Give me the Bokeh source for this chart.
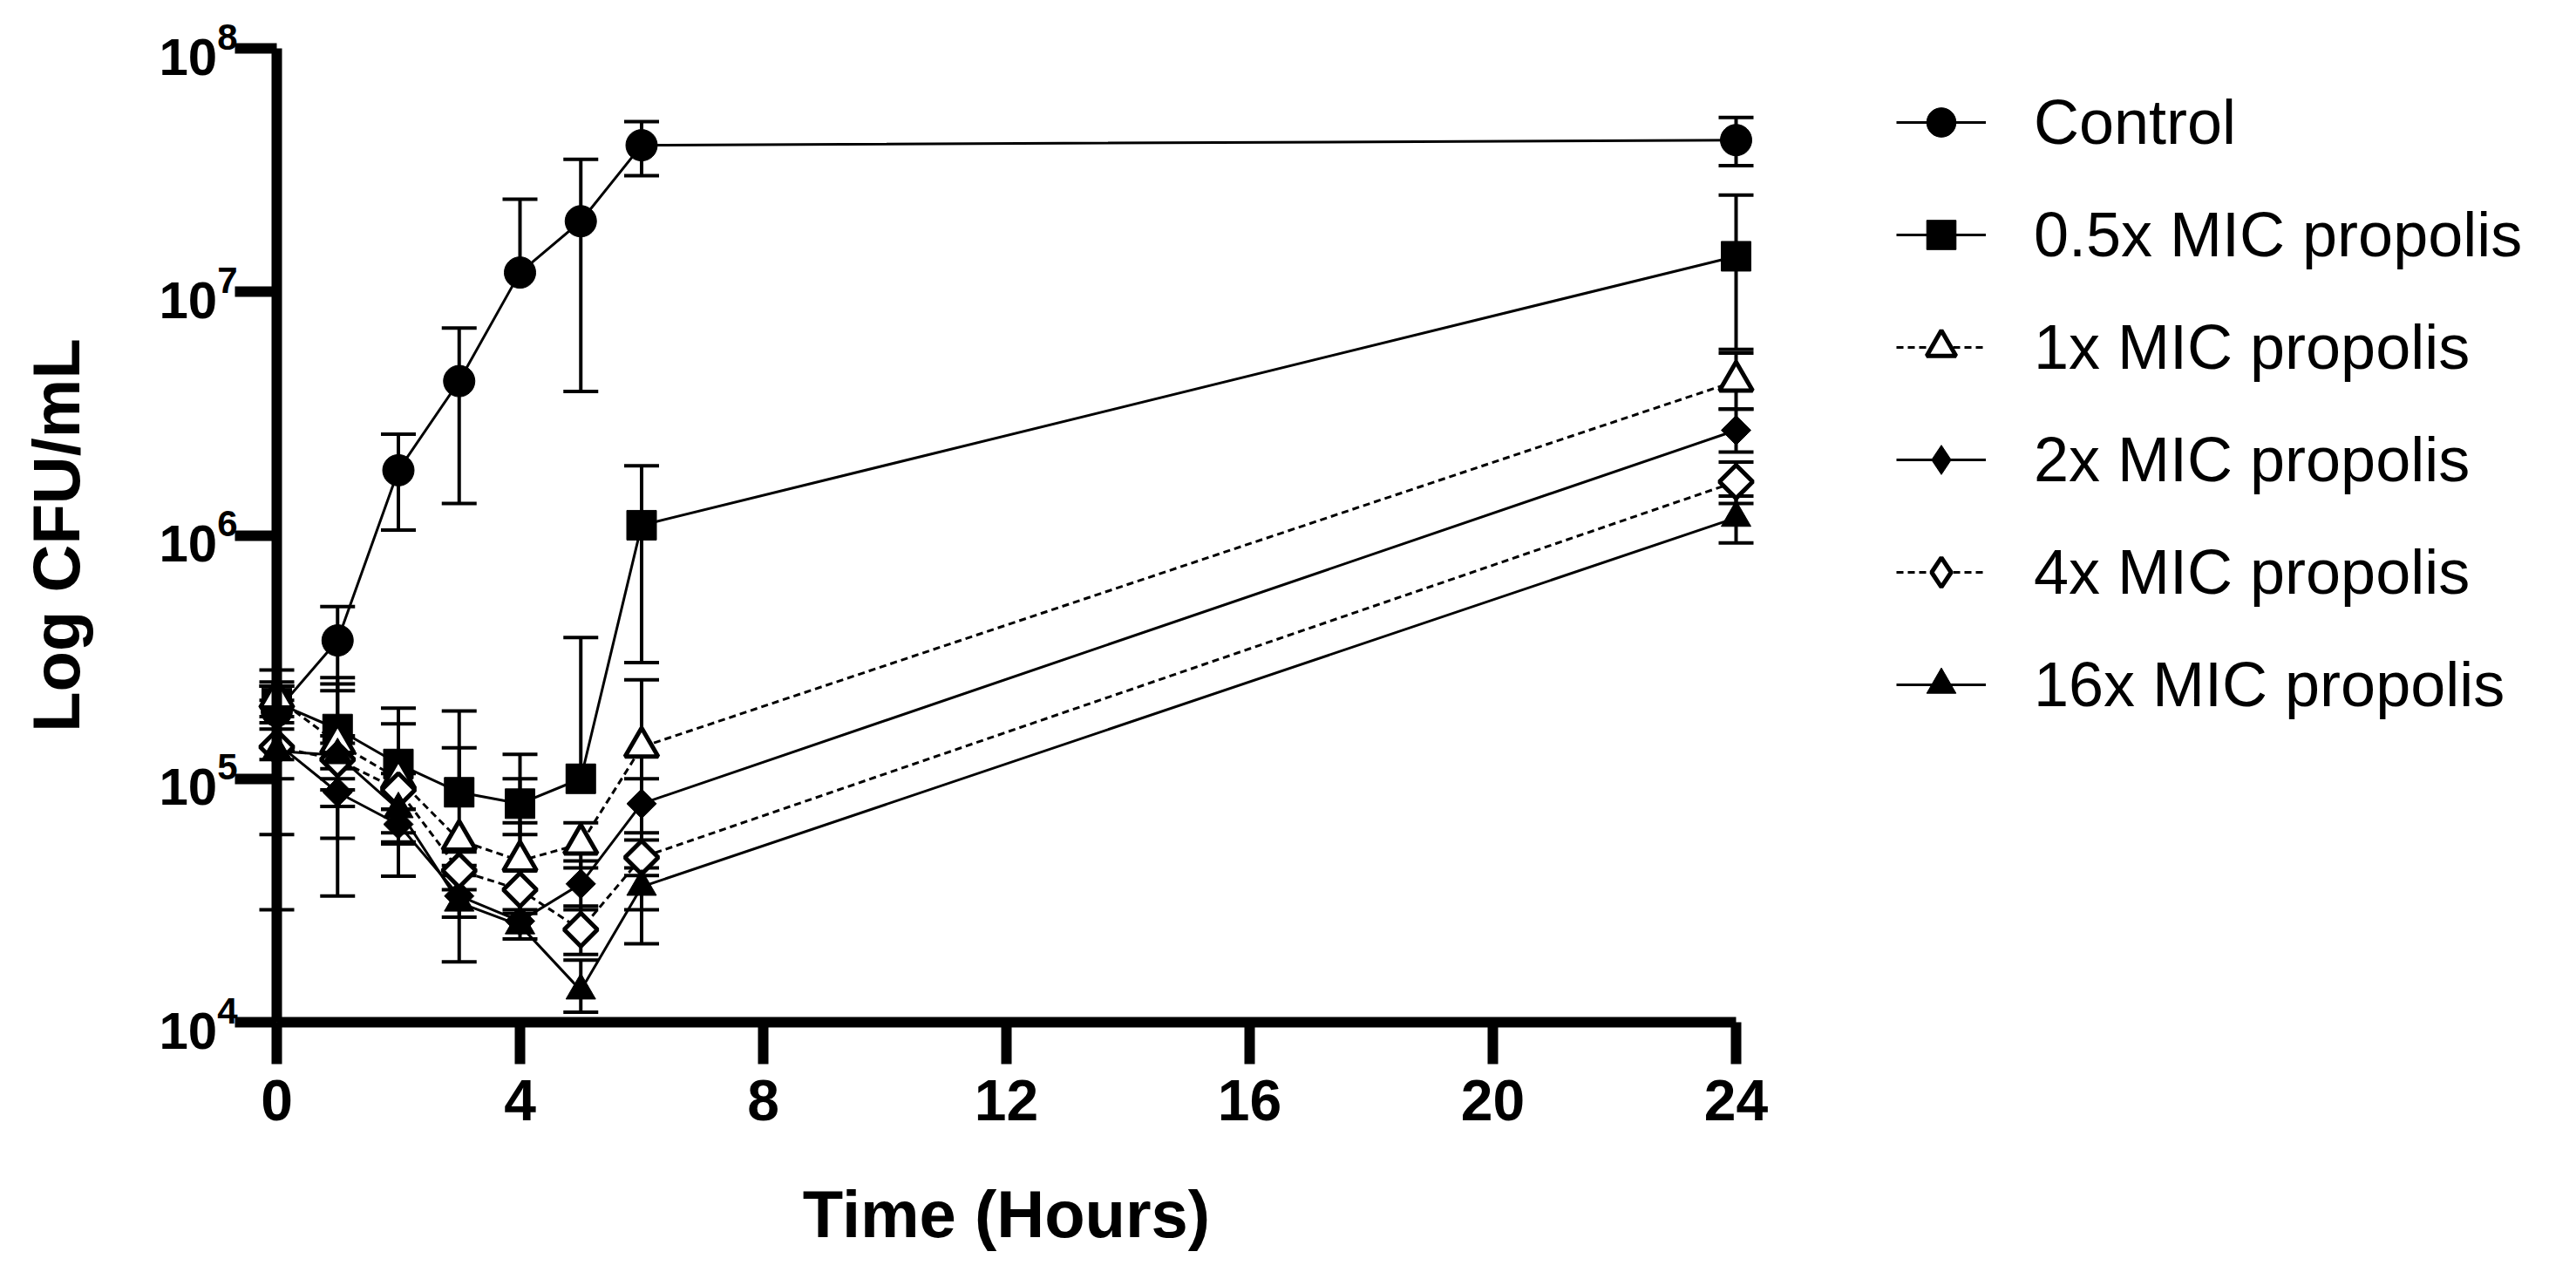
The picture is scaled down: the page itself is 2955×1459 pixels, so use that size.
import numpy as np
from bokeh.plotting import figure
from bokeh.models import (ColumnDataSource, Range1d, FixedTicker, Whisker, TeeHead,
                          Legend, LegendItem, Label)
from bokeh.embed import file_html
from bokeh.resources import INLINE

# time points (hours) and axis ticks
hours = [0, 1, 2, 3, 4, 5, 6, 24]
x_ticks = [0, 4, 8, 12, 16, 20, 24]
y_ticks = [1e4, 1e5, 1e6, 1e7, 1e8]

labels = ["Control", "0.5x MIC propolis", "1x MIC propolis",
          "2x MIC propolis", "4x MIC propolis", "16x MIC propolis"]

nan = float("nan")

# CFU/mL means, and the ends of the error bars (nan = bar not drawn)
control = [1.9e5, 3.7e5, 1.85e6, 4.3e6, 1.2e7, 1.95e7, 4.0e7, 4.2e7]
control_hi = [2.8e5, 5.1e5, 2.6e6, 7.1e6, 2.4e7, 3.5e7, 5.0e7, 5.2e7]
control_lo = [1.2e5, 2.3e5, 1.05e6, 1.35e6, nan, 3.9e6, 3.0e7, 3.3e7]

half = [2.05e5, 1.6e5, 1.15e5, 8.8e4, 7.9e4, 1.0e5, 1.1e6, 1.4e7]
half_hi = [2.4e5, 2.6e5, 1.95e5, 1.9e5, 1.0e5, 3.8e5, 1.93e6, 2.5e7]
half_lo = [1.7e5, 5.7e4, 3.98e4, nan, 5.9e4, nan, 3.0e5, 5.8e6]

one = [2.15e5, 1.4e5, 1.0e5, 5.6e4, 4.6e4, 5.4e4, 1.35e5, 4.3e6]
one_hi = [2.5e5, 2.45e5, 1.68e5, 1.34e5, 1.26e5, 6.6e4, 2.55e5, 5.6e6]
one_lo = [1.8e5, 3.3e4, 5.4e4, nan, nan, 4.3e4, 2.1e4, 3.3e6]

two = [1.4e5, 8.8e4, 6.5e4, 3.3e4, 2.6e4, 3.7e4, 7.9e4, 2.7e6]
two_hi = [2.1e5, 1.0e5, 7.5e4, 4.0e4, 6.6e4, 4.6e4, 1.0e5, 3.3e6]
two_lo = [5.9e4, 7.7e4, 5.5e4, 2.7e4, nan, 2.9e4, 6.0e4, 2.2e6]

four = [1.35e5, 1.2e5, 9.0e4, 4.2e4, 3.5e4, 2.4e4, 4.75e4, 1.66e6]
four_hi = [2.4e5, 1.5e5, 1.05e5, 5.0e4, 4.2e4, 3.0e4, 5.6e4, 2.0e6]
four_lo = [2.9e4, 9.0e4, 7.5e4, 3.5e4, 2.9e4, 1.9e4, 4.0e4, 1.35e6]

sixteen = [1.3e5, 1.25e5, 7.5e4, 3.1e4, 2.5e4, 1.35e4, 3.6e4, 1.18e6]
sixteen_hi = [1.6e5, 1.4e5, 9.0e4, 4.4e4, 2.8e4, 1.8e4, 4.3e4, 1.45e6]
sixteen_lo = [1.0e5, 1.1e5, 6.0e4, 1.77e4, 2.2e4, 1.1e4, 2.9e4, 9.3e5]

# layout: page pixels of t=0 / t=24 and of the 1e8 / 1e4 decades
W, H = 2939, 1443
px_t0, px_t24 = 317, 1991
px_top, px_bottom = 55, 1172
px_per_h = (px_t24 - px_t0) / 24
px_per_dec = (px_bottom - px_top) / (len(y_ticks) - 1)

# the frame fills the whole page; both axes are pinned inside it
# (y axis at t=0, x axis at 1e4) so nothing of them gets clipped
x_start = -px_t0 / px_per_h
x_end = x_start + W / px_per_h
y_lo = y_ticks[0] * 10 ** (-(H - px_bottom) / px_per_dec)
y_hi = y_ticks[-1] * 10 ** (px_top / px_per_dec)

p = figure(width=W, height=H, y_axis_type="log",
           x_range=Range1d(x_start, x_end), y_range=Range1d(y_lo, y_hi),
           output_backend="svg", toolbar_location=None, tools="",
           min_border_left=0, min_border_right=0, min_border_top=0, min_border_bottom=0)
p.outline_line_color = None
p.xgrid.grid_line_color = None
p.ygrid.grid_line_color = None

series = [
    (control, control_hi, control_lo, dict(marker="circle", size=36, fill_color="black", line_width=1), "solid"),
    (half, half_hi, half_lo, dict(marker="square", size=34, fill_color="black", line_width=1), "solid"),
    (one, one_hi, one_lo, dict(marker="triangle", size=38, fill_color="white", line_width=5), "8 5"),
    (two, two_hi, two_lo, dict(marker="square", angle=np.pi / 4, size=24, fill_color="black", line_width=1), "solid"),
    (four, four_hi, four_lo, dict(marker="square", angle=np.pi / 4, size=27, fill_color="white", line_width=5), "8 5"),
    (sixteen, sixteen_hi, sixteen_lo, dict(marker="triangle", size=34, fill_color="black", line_width=1), "solid"),
]

items = []
for name, (mean, hi, lo, mk, dash) in zip(labels, series):
    # error bars, drawn under the markers
    up = [(t, m, u) for t, m, u in zip(hours, mean, hi) if not np.isnan(u)]
    dn = [(t, m, l) for t, m, l in zip(hours, mean, lo) if not np.isnan(l)]
    if up:
        src = ColumnDataSource(dict(base=[u[0] for u in up], lower=[u[1] for u in up], upper=[u[2] for u in up]))
        p.add_layout(Whisker(source=src, base="base", lower="lower", upper="upper", dimension="height",
                             line_width=4, line_color="black", lower_head=None,
                             upper_head=TeeHead(size=40, line_width=4, line_color="black"), level="underlay"))
    if dn:
        src = ColumnDataSource(dict(base=[d[0] for d in dn], lower=[d[2] for d in dn], upper=[d[1] for d in dn]))
        p.add_layout(Whisker(source=src, base="base", lower="lower", upper="upper", dimension="height",
                             line_width=4, line_color="black", upper_head=None,
                             lower_head=TeeHead(size=40, line_width=4, line_color="black"), level="underlay"))
    src = ColumnDataSource(dict(t=hours, v=mean))
    ln = p.line("t", "v", source=src, line_color="black", line_width=3, line_dash=dash)
    leg = None
    if "angle" in mk:
        # legend glyphs ignore the angle: a narrower diamond, hidden under the
        # rotated square, stands in for it in the legend
        style = {k: v for k, v in mk.items() if k not in ("marker", "angle", "size")}
        leg = p.scatter("t", "v", source=src, marker="diamond", size=mk["size"] + 2,
                        line_color="black", **style)
    sc = p.scatter("t", "v", source=src, line_color="black", **mk)
    items.append(LegendItem(label=name, renderers=[ln, leg or sc]))

# legend: first row centred at y=140, rows 129 px apart, glyph starting at x=2175
item_h, gap = 84, 45
leg_top = 140 - item_h // 2
leg_bottom = leg_top + len(labels) * item_h + (len(labels) - 1) * gap
legend = Legend(items=items, location=(2175, H - leg_bottom),
                glyph_width=103, glyph_height=item_h, label_height=item_h,
                label_standoff=55, spacing=gap,
                padding=0, margin=0, border_line_color=None, background_fill_alpha=0,
                label_text_font="Liberation Sans", label_text_font_size="72px",
                label_text_color="black", label_text_baseline="middle")
p.add_layout(legend, "center")

# axes
p.xaxis.ticker = FixedTicker(ticks=x_ticks)
p.xaxis.bounds = (x_ticks[0], x_ticks[-1])
p.xaxis.fixed_location = y_ticks[0]
p.yaxis.ticker = FixedTicker(ticks=y_ticks)
p.yaxis.bounds = (y_ticks[0], y_ticks[-1])
p.yaxis.fixed_location = x_ticks[0]

for ax in (p.xaxis, p.yaxis):
    ax.axis_line_width = 12
    ax.axis_line_color = "black"
    ax.major_tick_line_width = 12
    ax.major_tick_line_color = "black"
    ax.major_tick_out = 48
    ax.major_tick_in = 0
    ax.minor_tick_line_color = None
    ax.major_label_text_font = "Liberation Sans"
    ax.major_label_text_font_style = "bold"
    ax.major_label_text_color = "black"

p.xaxis.major_label_text_font_size = "66px"
p.xaxis.major_label_standoff = 18
p.yaxis.major_label_text_font_size = "60px"
p.yaxis.major_label_standoff = -3

# axis titles (baseline of "Time (Hours)" near y=1392, of "Log CFU/mL" near x=64)
title_style = dict(text_font="Liberation Sans", text_font_style="bold",
                   text_font_size="76px", text_color="black")
p.add_layout(Label(x=(x_ticks[0] + x_ticks[-1]) / 2,
                   y=y_ticks[0] * 10 ** (-(1392 - px_bottom) / px_per_dec),
                   text="Time (Hours)", text_align="center", text_baseline="alphabetic",
                   **title_style))
p.add_layout(Label(x=x_start + 64 / px_per_h, y=(y_ticks[0] * y_ticks[-1]) ** 0.5,
                   text="Log CFU/mL", angle=np.pi / 2,
                   text_align="center", text_baseline="alphabetic", **title_style))

open("out.html", "w").write(file_html(p, INLINE))
